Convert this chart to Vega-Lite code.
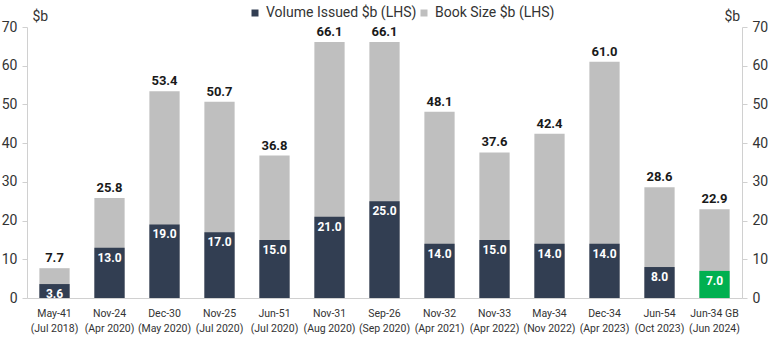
{
  "$schema": "https://vega.github.io/schema/vega-lite/v6.json",
  "autosize": "none",
  "width": 715,
  "height": 271,
  "padding": {"left": 27, "top": 27, "right": 26, "bottom": 63},
  "background": "white",
  "config": {
    "font": "Roboto",
    "view": {"stroke": null},
    "axis": {"labelFont": "Roboto", "titleFont": "Roboto", "grid": false},
    "legend": {"labelFont": "Roboto"}
  },
  "data": {
    "values": [
      {"cat": "May-41|(Jul 2018)", "book": 7.7, "vol": 3.6, "vs": "Volume Issued $b (LHS)"},
      {"cat": "Nov-24|(Apr 2020)", "book": 25.8, "vol": 13.0, "vs": "Volume Issued $b (LHS)"},
      {"cat": "Dec-30|(May 2020)", "book": 53.4, "vol": 19.0, "vs": "Volume Issued $b (LHS)"},
      {"cat": "Nov-25|(Jul 2020)", "book": 50.7, "vol": 17.0, "vs": "Volume Issued $b (LHS)"},
      {"cat": "Jun-51|(Jul 2020)", "book": 36.8, "vol": 15.0, "vs": "Volume Issued $b (LHS)"},
      {"cat": "Nov-31|(Aug 2020)", "book": 66.1, "vol": 21.0, "vs": "Volume Issued $b (LHS)"},
      {"cat": "Sep-26|(Sep 2020)", "book": 66.1, "vol": 25.0, "vs": "Volume Issued $b (LHS)"},
      {"cat": "Nov-32|(Apr 2021)", "book": 48.1, "vol": 14.0, "vs": "Volume Issued $b (LHS)"},
      {"cat": "Nov-33|(Apr 2022)", "book": 37.6, "vol": 15.0, "vs": "Volume Issued $b (LHS)"},
      {"cat": "May-34|(Nov 2022)", "book": 42.4, "vol": 14.0, "vs": "Volume Issued $b (LHS)"},
      {"cat": "Dec-34|(Apr 2023)", "book": 61.0, "vol": 14.0, "vs": "Volume Issued $b (LHS)"},
      {"cat": "Jun-54|(Oct 2023)", "book": 28.6, "vol": 8.0, "vs": "Volume Issued $b (LHS)"},
      {"cat": "Jun-34 GB|(Jun 2024)", "book": 22.9, "vol": 7.0, "vs": "GB"}
    ]
  },
  "encoding": {
    "x": {
      "field": "cat",
      "type": "nominal",
      "sort": null,
      "scale": {"paddingInner": 0.45, "paddingOuter": 0.225},
      "axis": {
        "title": null,
        "labelAngle": 0,
        "labelExpr": "split(datum.label, '|')",
        "labelFontSize": 10.5,
        "labelColor": "#333333",
        "labelPadding": 10,
        "labelLineHeight": 15,
        "ticks": false,
        "domainColor": "#D0D0D0",
        "domainWidth": 1
      }
    }
  },
  "layer": [
    {
      "mark": {"type": "bar", "cornerRadius": 0},
      "encoding": {
        "y": {
          "field": "book",
          "type": "quantitative",
          "scale": {"domain": [0, 70]},
          "axis": {
            "orient": "left",
            "title": "$b",
            "titleAngle": 0,
            "titleX": 5,
            "titleY": -4,
            "titleAlign": "left",
            "titleFontSize": 14,
            "titleFontWeight": "normal",
            "titleColor": "#333333",
            "values": [0, 10, 20, 30, 40, 50, 60, 70],
            "labelOverlap": false,
            "labelFontSize": 14,
            "labelColor": "#333333",
            "domainColor": "#D0D0D0",
            "tickColor": "#D0D0D0",
            "tickSize": 5,
            "labelPadding": 5
          }
        },
        "color": {
          "datum": "Book Size $b (LHS)",
          "type": "nominal",
          "title": null,
          "scale": {
            "domain": ["Volume Issued $b (LHS)", "Book Size $b (LHS)", "GB"],
            "range": ["#323E52", "#BFBFBF", "#00B050"]
          },
          "legend": {
            "values": ["Volume Issued $b (LHS)", "Book Size $b (LHS)"],
            "orient": "none",
            "direction": "horizontal",
            "legendX": 221,
            "legendY": -21,
            "title": null,
            "symbolType": "square",
            "symbolSize": 49,
            "symbolStrokeWidth": 0,
            "labelFontSize": 14,
            "labelColor": "#333333",
            "columnPadding": -20,
            "symbolOffset": 0
          }
        }
      }
    },
    {
      "mark": {"type": "bar"},
      "encoding": {
        "y": {
          "field": "vol",
          "type": "quantitative",
          "scale": {"domain": [0, 70]},
          "axis": {
            "orient": "right",
            "title": "$b",
            "titleAngle": 0,
            "titleX": -18,
            "titleY": -4,
            "titleAlign": "left",
            "titleFontSize": 14,
            "titleFontWeight": "normal",
            "titleColor": "#333333",
            "values": [0, 10, 20, 30, 40, 50, 60, 70],
            "labelOverlap": false,
            "labelFontSize": 14,
            "labelColor": "#333333",
            "domainColor": "#D0D0D0",
            "tickColor": "#D0D0D0",
            "tickSize": 5,
            "labelPadding": 5
          }
        },
        "color": {"field": "vs", "type": "nominal", "title": null}
      }
    },
    {
      "mark": {"type": "text", "dy": -10, "fontWeight": "bold", "fontSize": 13, "color": "#1a1a1a", "baseline": "middle"},
      "encoding": {
        "y": {"field": "book", "type": "quantitative", "scale": {"domain": [0, 70]}, "axis": null},
        "text": {"field": "book", "type": "quantitative", "format": ".1f"}
      }
    },
    {
      "mark": {"type": "text", "dy": 10, "fontWeight": "bold", "fontSize": 12, "color": "white", "baseline": "middle"},
      "encoding": {
        "y": {"field": "vol", "type": "quantitative", "scale": {"domain": [0, 70]}, "axis": null},
        "text": {"field": "vol", "type": "quantitative", "format": ".1f"}
      }
    }
  ],
  "resolve": {"scale": {"y": "independent"}}
}
